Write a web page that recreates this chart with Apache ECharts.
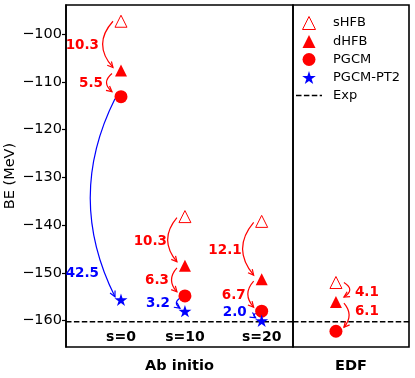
<!DOCTYPE html>
<html><head><meta charset="utf-8">
<script src="https://cdn.jsdelivr.net/npm/echarts@6/dist/echarts.min.js"></script>
<style>html,body{margin:0;padding:0;background:#fff}#c{width:415px;height:378px}</style>
</head><body><div id="c"></div><script>
// ---------- data ----------
const abCategories = ['s=0', 's=10', 's=20'];
const abPositions = [0, 1, 2.2];
const sHFB_ab = [-97.3, -138.2, -139.2];
const dHFB_ab = [-107.6, -148.5, -151.3];
const PGCM_ab = [-113.1, -154.8, -158.0];
const PT2_ab  = [-155.6, -158.0, -160.0];
const edfPositions = [0];
const sHFB_edf = [-152.0];
const dHFB_edf = [-156.1];
const PGCM_edf = [-162.2];
const expBE = -160.2;
const gainDHFB_ab = ['10.3', '10.3', '12.1'];
const gainPGCM_ab = ['5.5', '6.3', '6.7'];
const gainPT2_ab  = ['42.5', '3.2', '2.0'];
const gainDHFB_edf = ['4.1'];
const gainPGCM_edf = ['6.1'];
const yTicks = [-160, -150, -140, -130, -120, -110, -100];

// ---------- styles ----------
const RED = '#ff0000', BLUE = '#0000ff';
const FONT = 'DejaVu Sans';
const STAR = 'path://M0,-10L2.245,-3.09L9.511,-3.09L3.633,1.18L5.878,8.09L0,3.82L-5.878,8.09L-3.633,1.18L-9.511,-3.09L-2.245,-3.09Z';
const TRI = 'path://M0,-1L1,1L-1,1Z';
const DASH_ICON = 'path://M0,0h5.5v1.4h-5.5z M7.9,0h5.5v1.4h-5.5z M15.8,0h5.5v1.4h-5.5z M23.7,0h2.3v1.4h-2.3z';
const Y_MIN = -165.5, Y_MAX = -93.9;
const AB_XMIN = -0.86, AB_XMAX = 2.69;
const EDF_XMIN = -0.67, EDF_XMAX = 1.14;

// geometry tweaks per arrow (pixels)
const abArrowStyle = [
  [{rad:0.45, ox:8, sa:0, sb:3, lx:22, ldy:0}, {rad:0.6, ox:9, sa:3, sb:5, lx:18, ldy:0}, {rad:0.25, ox:6, sa:2, sb:3, lx:22, ldy:75}],
  [{rad:0.42, ox:8, sa:1, sb:4, lx:18, ldy:0}, {rad:0.45, ox:8, sa:2, sb:4, lx:16, ldy:0}, {rad:0.7, ox:5, sa:2, sb:3, lx:15, ldy:0}],
  [{rad:0.42, ox:8, sa:1, sb:4, lx:20, ldy:0}, {rad:0.45, ox:8, sa:2, sb:4, lx:16, ldy:0}, {rad:0.8, ox:6, sa:2, sb:3, lx:15, ldy:-3}]
];
const edfArrowStyle = [
  [{rad:0.8, ox:8, sa:0, sb:5, lx:19, ldy:0}, {rad:0.43, ox:8, sa:1, sb:4, lx:19, ldy:-5}]
];

function buildArrows(pos, s, d, p, t, g1, g2, g3, styles, side) {
  const out = [];
  pos.forEach((x, i) => {
    out.push(Object.assign({x, from:s[i], to:d[i], color:RED, text:g1[i], side}, styles[i][0]));
    out.push(Object.assign({x, from:d[i], to:p[i], color:RED, text:g2[i], side}, styles[i][1]));
    if (t) out.push(Object.assign({x, from:p[i], to:t[i], color:BLUE, text:g3[i], side}, styles[i][2]));
  });
  return out;
}
const leftArrows = buildArrows(abPositions, sHFB_ab, dHFB_ab, PGCM_ab, PT2_ab, gainDHFB_ab, gainPGCM_ab, gainPT2_ab, abArrowStyle, -1);
const rightArrows = buildArrows(edfPositions, sHFB_edf, dHFB_edf, PGCM_edf, null, gainDHFB_edf, gainPGCM_edf, null, edfArrowStyle, 1);

function arrowSeries(list, idx) {
  return {
    type: 'custom', xAxisIndex: idx, yAxisIndex: idx, z: 2, silent: true,
    data: list.map(a => [a.x, a.from, a.to]),
    encode: {x: 0, y: [1, 2]},
    renderItem: function (params, api) {
      const a = list[params.dataIndex];
      const s = a.side;
      const A = api.coord([api.value(0), api.value(1)]);
      const B = api.coord([api.value(0), api.value(2)]);
      const x1 = A[0] + s * a.ox, y1 = A[1] + a.sa;
      const x2 = B[0] + s * a.ox, y2 = B[1] - a.sb;
      const dx = x2 - x1, dy = y2 - y1;
      const cx = (x1 + x2) / 2 + s * a.rad * dy;
      const cy = (y1 + y2) / 2 - s * a.rad * dx;
      let ux = x2 - cx, uy = y2 - cy;
      const ul = Math.hypot(ux, uy) || 1; ux /= ul; uy /= ul;
      const hl = 5.5, hw = 2.8;
      const bx = x2 - hl * ux, by = y2 - hl * uy;
      const midY = (A[1] + B[1]) / 2 + a.ldy;
      const lxPos = A[0] + s * a.lx;
      return {
        type: 'group',
        children: [
          {type: 'bezierCurve', shape: {x1, y1, x2, y2, cpx1: cx, cpy1: cy},
           style: {stroke: a.color, lineWidth: 1.2, fill: null}},
          {type: 'polyline', shape: {points: [[bx - hw * uy, by + hw * ux], [x2, y2], [bx + hw * uy, by - hw * ux]]},
           style: {stroke: a.color, lineWidth: 1.2, fill: null}},
          {type: 'text', x: lxPos, y: midY,
           style: {text: a.text, fill: a.color, font: 'bold 13.5px "' + FONT + '"',
                   align: s < 0 ? 'right' : 'left', verticalAlign: 'middle'}}
        ]
      };
    }
  };
}

function pts(pos, vals) { return pos.map((x, i) => [x, vals[i]]); }
const sHFBStyle = {symbol: 'triangle', symbolSize: 12, symbolKeepAspect: true, itemStyle: {color: '#fff', borderColor: RED, borderWidth: 1, opacity: 1}};
const dHFBStyle = {symbol: 'triangle', symbolSize: 12, symbolKeepAspect: true, itemStyle: {color: RED, opacity: 1}};
const PGCMStyle = {symbol: 'circle', symbolSize: 13, symbolKeepAspect: true, itemStyle: {color: RED, opacity: 1}};
const PT2Style  = {symbol: STAR, symbolSize: 13, symbolKeepAspect: true, itemStyle: {color: BLUE, opacity: 1}};
function scatter(name, idx, data, st) {
  return Object.assign({type: 'scatter', name, xAxisIndex: idx, yAxisIndex: idx, data, z: 3, silent: true}, st);
}
const expLine = (idx, xmin, xmax) => ({
  type: 'line', name: 'Exp', xAxisIndex: idx, yAxisIndex: idx, z: 1, silent: true,
  data: [[xmin, expBE], [xmax, expBE]], symbol: 'none', color: '#000', itemStyle: {color: '#000'},
  lineStyle: {color: '#000', width: 1.4, type: [5.5, 2.4]}
});

const yAxisBase = {type: 'value', min: Y_MIN, max: Y_MAX, splitLine: {show: false}};
const chart = echarts.init(document.getElementById('c'), null, {renderer: 'canvas'});
chart.setOption({
  animation: false,
  backgroundColor: '#fff',
  textStyle: {fontFamily: FONT, color: '#000'},
  grid: [
    {left: 66, top: 5, width: 227, height: 342, show: true, borderColor: '#000', borderWidth: 1.6,
     backgroundColor: 'transparent', outerBoundsMode: 'none', containLabel: false},
    {left: 293, top: 5, width: 116, height: 342, show: true, borderColor: '#000', borderWidth: 1.6,
     backgroundColor: 'transparent', outerBoundsMode: 'none', containLabel: false}
  ],
  xAxis: [
    {gridIndex: 0, type: 'value', min: AB_XMIN, max: AB_XMAX, splitLine: {show: false},
     axisLine: {show: false}, axisTick: {show: false},
     axisLabel: {customValues: abPositions, inside: true, margin: 3, fontSize: 14, fontWeight: 'bold', color: '#000', fontFamily: FONT,
                 formatter: v => abCategories[abPositions.findIndex(p => Math.abs(p - v) < 1e-6)]},
     name: 'Ab initio', nameLocation: 'middle', nameGap: 12, nameMoveOverlap: false,
     nameTextStyle: {fontSize: 14.5, fontWeight: 'bold', color: '#000', fontFamily: FONT}},
    {gridIndex: 1, type: 'value', min: EDF_XMIN, max: EDF_XMAX, splitLine: {show: false},
     axisLine: {show: false}, axisTick: {show: false}, axisLabel: {show: false},
     name: 'EDF', nameLocation: 'middle', nameGap: 12, nameMoveOverlap: false,
     nameTextStyle: {fontSize: 14.5, fontWeight: 'bold', color: '#000', fontFamily: FONT}}
  ],
  yAxis: [
    Object.assign({gridIndex: 0,
      axisLine: {show: true, onZero: false, lineStyle: {color: '#000', width: 1.6}},
      axisTick: {show: true, customValues: yTicks, length: 4, lineStyle: {color: '#000', width: 1.2}},
      axisLabel: {customValues: yTicks, margin: 4, fontSize: 14.5, color: '#000', fontFamily: FONT,
                  formatter: v => String(v).replace('-', '\u2212')},
      name: 'BE (MeV)', nameLocation: 'middle', nameGap: 48, nameMoveOverlap: false,
      nameTextStyle: {fontSize: 14.5, color: '#000', fontFamily: FONT}}, yAxisBase),
    Object.assign({gridIndex: 1, show: false}, yAxisBase)
  ],
  legend: {
    orient: 'vertical', left: 296, top: 16, padding: 0, itemWidth: 26, itemHeight: 13, itemGap: 5,
    symbolKeepAspect: true,
    textStyle: {fontSize: 13, color: '#000', fontFamily: FONT, padding: [0, 0, 0, 6]},
    data: [
      {name: 'sHFB', icon: TRI, itemStyle: {color: '#fff', borderColor: RED, borderWidth: 1}},
      {name: 'dHFB', icon: TRI, itemStyle: {color: RED, borderWidth: 0}},
      {name: 'PGCM', icon: 'circle', itemStyle: {color: RED, borderWidth: 0}},
      {name: 'PGCM-PT2', icon: STAR, itemStyle: {color: BLUE, borderWidth: 0}},
      {name: 'Exp', icon: DASH_ICON, itemStyle: {color: '#000', borderWidth: 0}}
    ],
    selectedMode: false
  },
  series: [
    expLine(0, AB_XMIN, AB_XMAX),
    expLine(1, EDF_XMIN, EDF_XMAX),
    arrowSeries(leftArrows, 0),
    arrowSeries(rightArrows, 1),
    scatter('sHFB', 0, pts(abPositions, sHFB_ab), sHFBStyle),
    scatter('dHFB', 0, pts(abPositions, dHFB_ab), dHFBStyle),
    scatter('PGCM', 0, pts(abPositions, PGCM_ab), PGCMStyle),
    scatter('PGCM-PT2', 0, pts(abPositions, PT2_ab), PT2Style),
    scatter('sHFB', 1, pts(edfPositions, sHFB_edf), sHFBStyle),
    scatter('dHFB', 1, pts(edfPositions, dHFB_edf), dHFBStyle),
    scatter('PGCM', 1, pts(edfPositions, PGCM_edf), PGCMStyle)
  ]
});
</script></body></html>
